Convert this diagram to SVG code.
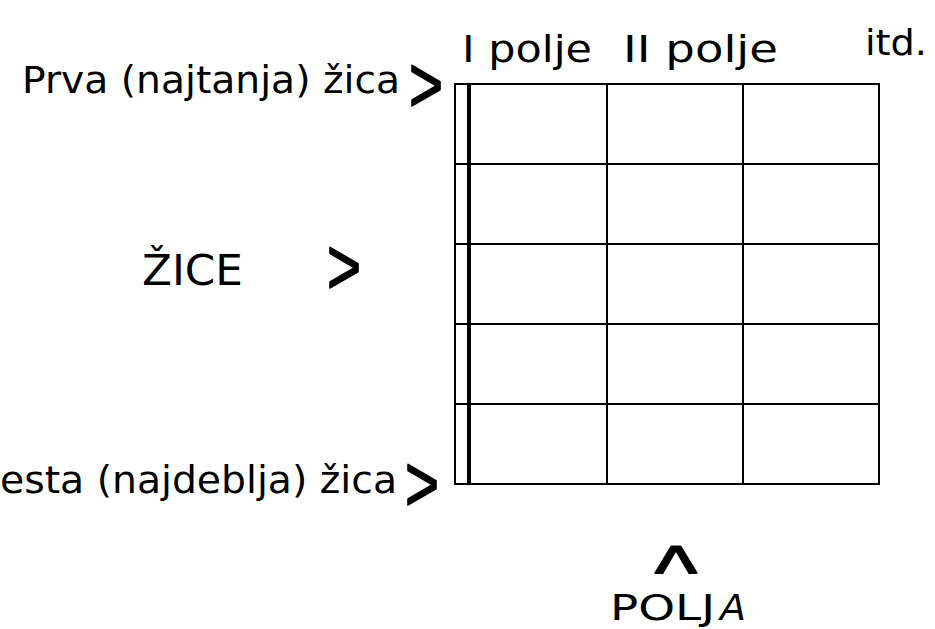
<svg xmlns="http://www.w3.org/2000/svg" width="935" height="629" viewBox="0 0 935 629">
<style>
.t{font-family:"DejaVu Sans","Liberation Sans",sans-serif;fill:#000}
.ch{font-family:"Liberation Sans",Arial,sans-serif;fill:#000;stroke:#000;stroke-width:1.8px;stroke-linejoin:round;font-size:80px}
.g{fill:none;stroke:#000;stroke-width:2}
</style>
<rect width="935" height="629" fill="#fff"/>
<g id="fret-grid">
<rect class="g" x="455" y="84" width="424" height="400"/>
<line class="g" x1="607" y1="84" x2="607" y2="484"/>
<line class="g" x1="743" y1="84" x2="743" y2="484"/>
<line class="g" x1="455" y1="164" x2="879" y2="164"/>
<line class="g" x1="455" y1="244" x2="879" y2="244"/>
<line class="g" x1="455" y1="324" x2="879" y2="324"/>
<line class="g" x1="455" y1="404" x2="879" y2="404"/>
<line x1="469" y1="84" x2="469" y2="484" stroke="#000" stroke-width="4"/>
</g>
<g id="fret-labels">
<text class="t" x="462" y="62" font-size="38" textLength="130" lengthAdjust="spacingAndGlyphs">I polje</text>
<text class="t" x="623" y="62" font-size="38" textLength="155" lengthAdjust="spacingAndGlyphs">II polje</text>
<text class="t" x="865" y="55" font-size="36" textLength="62" lengthAdjust="spacingAndGlyphs">itd.</text>
</g>
<g id="string-labels">
<text class="t" x="22" y="93" font-size="37" textLength="378" lengthAdjust="spacingAndGlyphs">Prva (najtanja) žica</text>
<text class="ch" x="409" y="112" textLength="34" lengthAdjust="spacingAndGlyphs">&gt;</text>
<text class="t" x="142" y="285" font-size="43" textLength="101" lengthAdjust="spacingAndGlyphs">ŽICE</text>
<text class="ch" x="327" y="294" textLength="34" lengthAdjust="spacingAndGlyphs">&gt;</text>
<text class="t" x="0" y="493" font-size="37" textLength="397" lengthAdjust="spacingAndGlyphs">esta (najdeblja) žica</text>
<text class="ch" x="405" y="511" textLength="34" lengthAdjust="spacingAndGlyphs">&gt;</text>
</g>
<g id="polja-label">
<text class="ch" x="655" y="597" style="font-size:75px" textLength="42" lengthAdjust="spacingAndGlyphs">^</text>
<text class="t" y="620" font-size="35"><tspan x="610" textLength="105" lengthAdjust="spacingAndGlyphs">POLJ</tspan><tspan x="720" font-style="italic" textLength="26" lengthAdjust="spacingAndGlyphs">A</tspan></text>
</g>
</svg>
